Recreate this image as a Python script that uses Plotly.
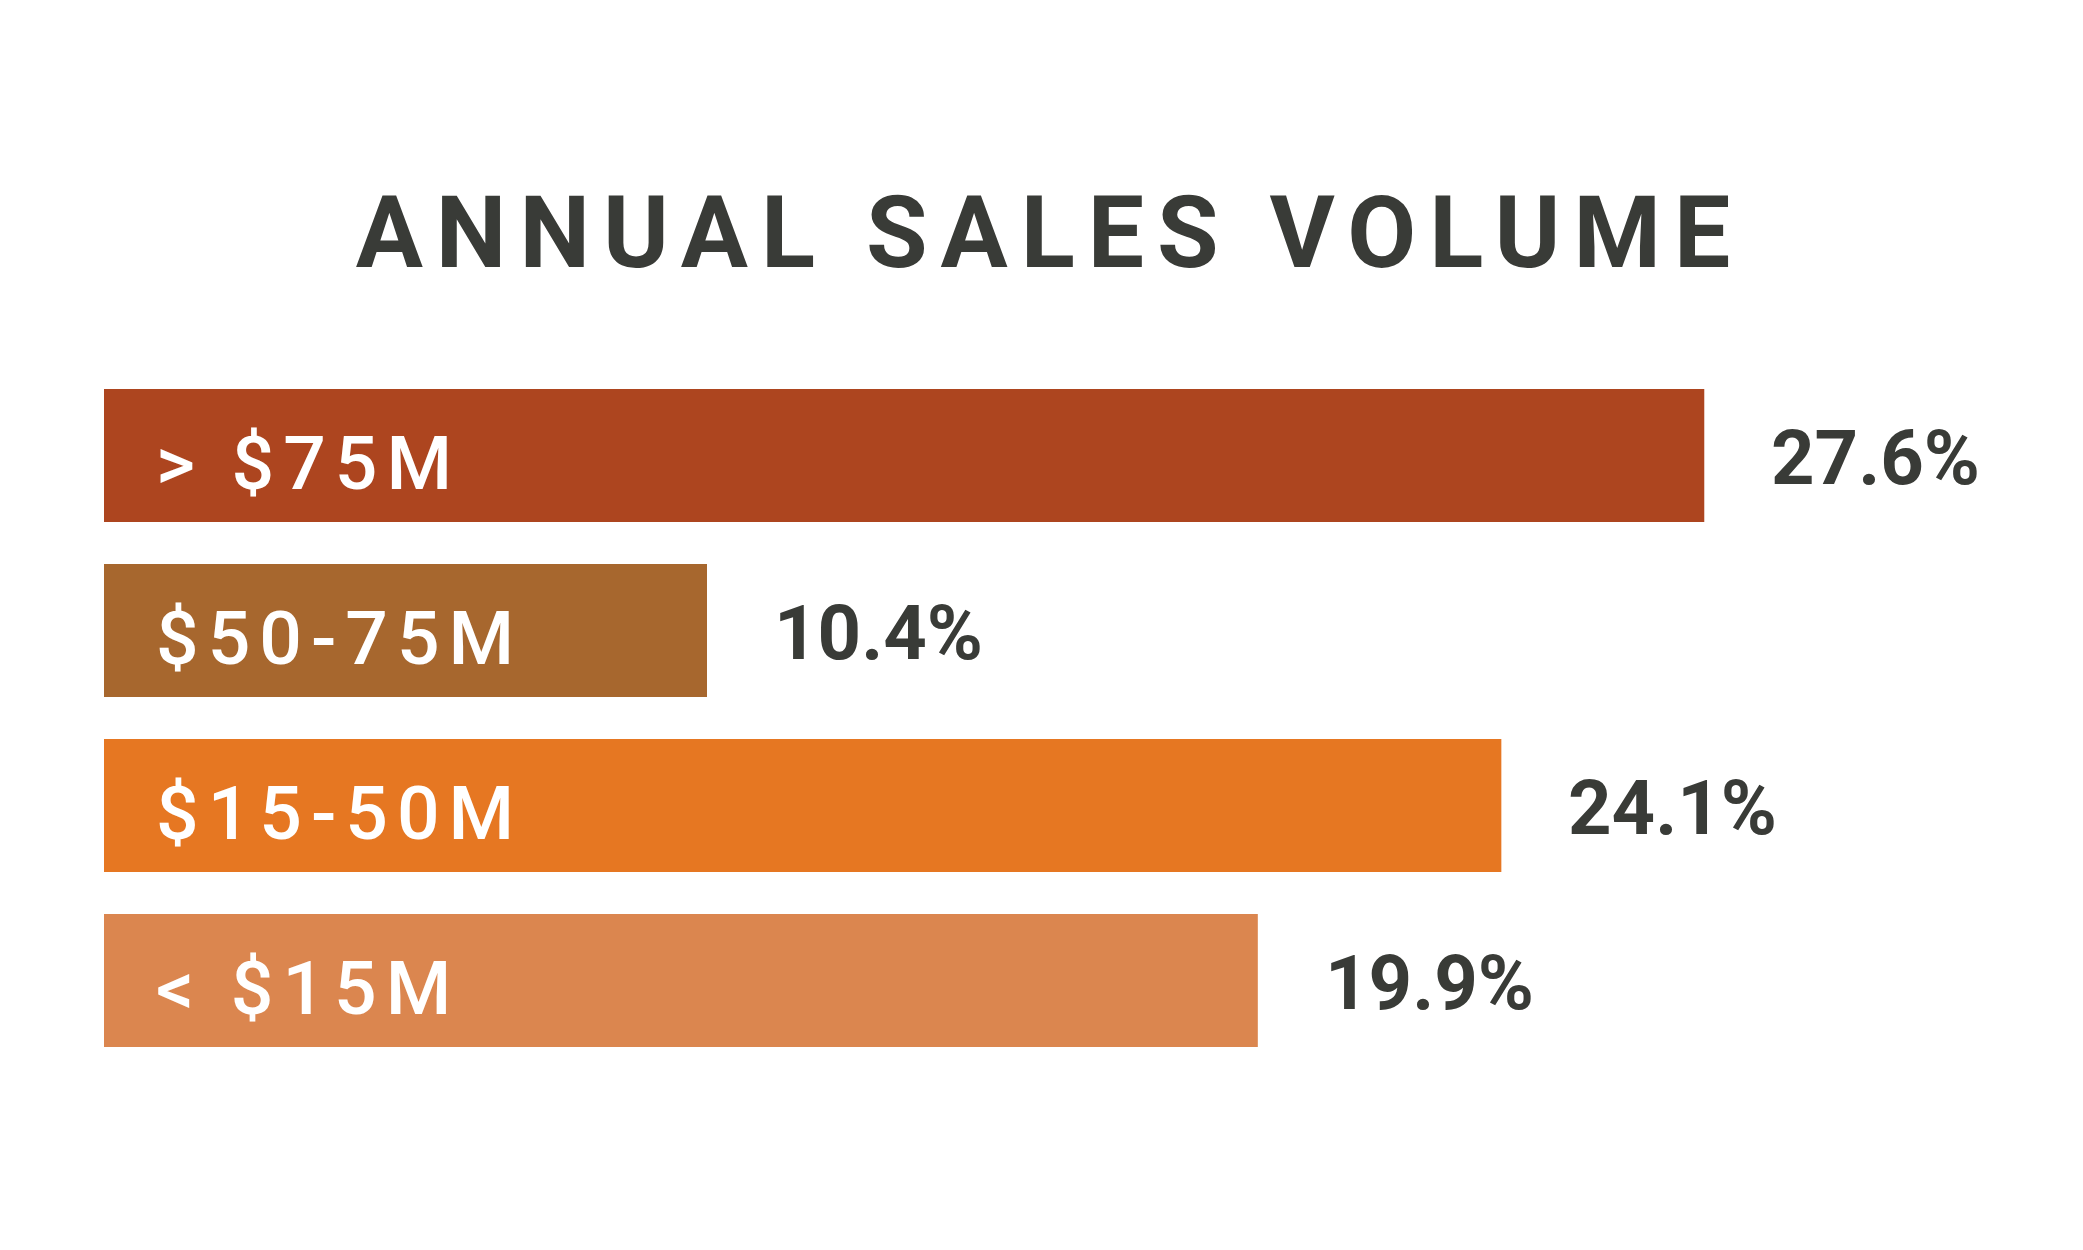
import plotly.graph_objects as go

# annual sales volume bands and their share
categories = ["> $75M", "$50-75M", "$15-50M", "< $15M"]
shares = [27.6, 10.4, 24.1, 19.9]
bar_colors = ["#AD451F", "#A7672E", "#E67722", "#DB864F"]

TEXT_DARK = "#393B37"
FONT = "Roboto, 'Open Sans', sans-serif"

fig = go.Figure(
    go.Bar(
        x=shares,
        y=categories,
        orientation="h",
        marker=dict(color=bar_colors, line=dict(width=0)),
        width=0.76,
        hoverinfo="skip",
    )
)

# band name inside the bar, share to the right of it
for cat, val in zip(categories, shares):
    fig.add_annotation(
        x=0, y=cat, text=cat, showarrow=False, align="left",
        xanchor="left", yanchor="middle", xshift=50, yshift=-7,
        font=dict(family=FONT, size=75, color="white", weight=500),
    )
    fig.add_annotation(
        x=val, y=cat, text=f"{val:.1f}%", showarrow=False, align="left",
        xanchor="left", yanchor="middle", xshift=65, yshift=-2,
        font=dict(family=FONT, size=76, color=TEXT_DARK, weight="bold"),
    )

fig.update_layout(
    width=2083,
    height=1250,
    margin=dict(l=96, r=0, t=360, b=190),
    paper_bgcolor="white",
    plot_bgcolor="white",
    showlegend=False,
    title=dict(
        text="ANNUAL SALES VOLUME",
        x=0.5, xanchor="center",
        y=1 - 224 / 1250, yref="container", yanchor="middle",
        font=dict(family=FONT, size=100, color=TEXT_DARK, weight="bold"),
    ),
)
fig.update_xaxes(range=[0, 34.27], visible=False, fixedrange=True)
fig.update_yaxes(range=[3.5, -0.5], visible=False, fixedrange=True)

# the reference uses tracked-out lettering for the title and band names
spacing_js = """
var s = document.createElement('style');
s.textContent = '.gtitle{letter-spacing:13px;}';
document.head.appendChild(s);
document.querySelectorAll('.annotation-text').forEach(function(t){
  if (t.style.fill === 'rgb(255, 255, 255)' || t.style.fill === 'white') {
    t.style.letterSpacing = '9px';
  }
});
"""

fig.write_html("out.html", post_script=spacing_js)
